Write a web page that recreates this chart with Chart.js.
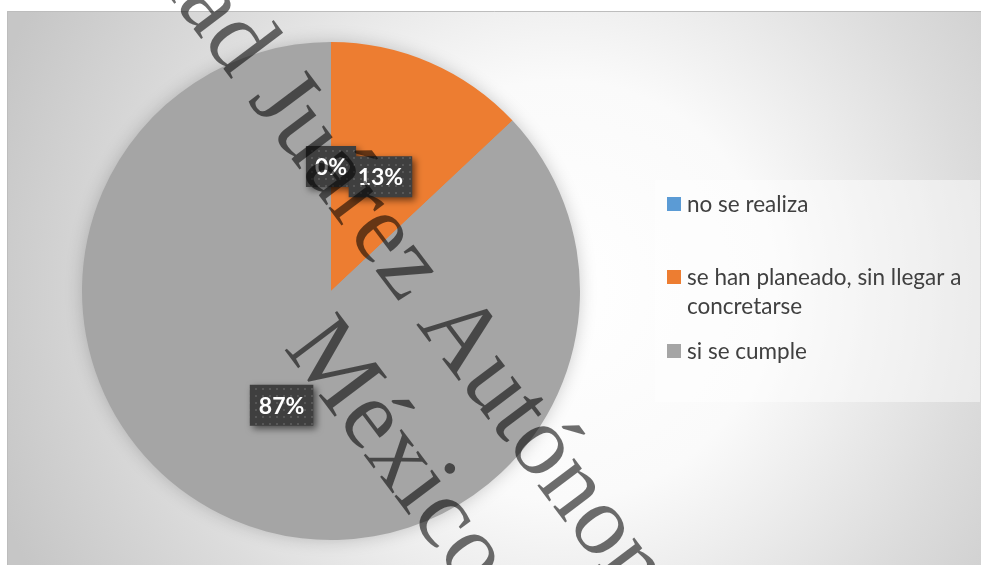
<!DOCTYPE html>
<html>
<head>
<meta charset="utf-8">
<script src="https://cdn.jsdelivr.net/npm/chart.js@4.4.1/dist/chart.umd.min.js"></script>
<style>
  html, body { margin: 0; padding: 0; background: #fff; }
  canvas { display: block; }
</style>
</head>
<body>
<canvas id="pie" width="981" height="565"></canvas>
<script>
const categories = ['no se realiza', 'se han planeado, sin llegar a concretarse', 'si se cumple']
const values = [0, 13, 87]
const colors = ['#5B9BD5', '#ED7D31', '#A5A5A5']
const watermarkLines = ['Universidad ', 'Juárez Autónoma de Tabasco', 'México']

const total = values.reduce((a, b) => a + b, 0)

// little dotted fill used by the dark label boxes
const dots = document.createElement('canvas')
dots.width = 7
dots.height = 7
const dctx = dots.getContext('2d')
dctx.fillStyle = '#3f3f3f'
dctx.fillRect(0, 0, 7, 7)
dctx.fillStyle = '#575757'
dctx.fillRect(3, 3, 2, 2)

const background = {
    id: 'background',
    beforeDraw(chart) {
        const ctx = chart.ctx
        ctx.save()
        ctx.fillStyle = '#fff'
        ctx.fillRect(0, 0, chart.width, chart.height)
        const g = ctx.createRadialGradient(560, 290, 0, 560, 290, 600)
        g.addColorStop(0, '#ffffff')
        g.addColorStop(0.35, '#fafafa')
        g.addColorStop(0.7, '#dcdcdc')
        g.addColorStop(1, '#c6c6c6')
        ctx.fillStyle = g
        ctx.fillRect(7, 11, chart.width - 7, chart.height - 11)
        ctx.strokeStyle = '#bdbdbd'
        ctx.lineWidth = 1
        ctx.beginPath()
        ctx.moveTo(7.5, chart.height)
        ctx.lineTo(7.5, 11.5)
        ctx.lineTo(chart.width, 11.5)
        ctx.stroke()
        ctx.restore()
    }
}

const pieShadow = {
    id: 'pieShadow',
    beforeDatasetsDraw(chart) {
        const arc = chart.getDatasetMeta(0).data[0]
        if (!arc) return
        const ctx = chart.ctx
        ctx.save()
        ctx.shadowColor = 'rgba(0,0,0,0.22)'
        ctx.shadowBlur = 18
        ctx.fillStyle = colors[2]
        ctx.beginPath()
        ctx.arc(arc.x, arc.y, arc.outerRadius - 1, 0, Math.PI * 2)
        ctx.fill()
        ctx.restore()
    }
}

const percentLabels = {
    id: 'percentLabels',
    afterDatasetsDraw(chart) {
        const ctx = chart.ctx
        const meta = chart.getDatasetMeta(0)
        ctx.save()
        ctx.font = 'bold 23px Lato'
        ctx.textAlign = 'center'
        ctx.textBaseline = 'middle'
        meta.data.forEach((arc, i) => {
            const p = arc.getCenterPoint()
            const txt = Math.round(values[i] / total * 100) + '%'
            const w = ctx.measureText(txt).width + 18
            const h = 41
            ctx.save()
            ctx.shadowColor = 'rgba(0,0,0,0.55)'
            ctx.shadowBlur = 7
            ctx.shadowOffsetX = 3
            ctx.shadowOffsetY = 3
            ctx.fillStyle = ctx.createPattern(dots, 'repeat')
            ctx.fillRect(p.x - w / 2, p.y - h / 2, w, h)
            ctx.restore()
            ctx.fillStyle = '#ffffff'
            ctx.fillText(txt, p.x, p.y + 1)
        })
        ctx.restore()
    }
}

function wrap(ctx, text, maxWidth) {
    const words = text.split(' ')
    const lines = []
    let line = ''
    words.forEach(wd => {
        const test = line ? line + ' ' + wd : wd
        if (ctx.measureText(test).width > maxWidth && line) {
            lines.push(line)
            line = wd
        } else {
            line = test
        }
    })
    lines.push(line)
    return lines
}

const sideLegend = {
    id: 'sideLegend',
    afterDraw(chart) {
        const ctx = chart.ctx
        ctx.save()
        ctx.fillStyle = 'rgba(255,255,255,0.45)'
        ctx.fillRect(655, 180, 325, 222)
        ctx.font = '22.5px Lato'
        ctx.textBaseline = 'middle'
        const rowY = [204, 277, 351]
        categories.forEach((c, i) => {
            ctx.fillStyle = colors[i]
            ctx.fillRect(667, rowY[i] - 7, 14, 14)
            ctx.fillStyle = '#404040'
            wrap(ctx, c, 286).forEach((ln, k) => {
                ctx.fillText(ln, 687, rowY[i] + 1 + k * 29)
            })
        })
        ctx.restore()
    }
}

const watermark = {
    id: 'watermark',
    afterDraw(chart) {
        const ctx = chart.ctx
        const ang = 53 * Math.PI / 180
        ctx.save()
        ctx.fillStyle = 'rgba(0,0,0,0.57)'
        ctx.font = '100px "Liberation Serif"'
        ctx.textBaseline = 'alphabetic'
        ctx.save()
        ctx.translate(247, 100)
        ctx.rotate(ang)
        ctx.textAlign = 'right'
        ctx.fillText(watermarkLines[0], 0, 0)
        ctx.textAlign = 'left'
        ctx.fillText(watermarkLines[1], 0, 0)
        ctx.restore()
        ctx.translate(283, 348)
        ctx.rotate(ang)
        ctx.textAlign = 'left'
        ctx.fillText(watermarkLines[2], 0, 0)
        ctx.restore()
    }
}

new Chart(document.getElementById('pie').getContext('2d'), {
    type: 'pie',
    data: {
        labels: categories,
        datasets: [{
            data: values,
            backgroundColor: colors,
            borderWidth: 0
        }]
    },
    options: {
        responsive: false,
        animation: false,
        devicePixelRatio: 1,
        layout: {
            padding: { left: 82, top: 41, right: 401, bottom: 24 }
        },
        plugins: {
            legend: { display: false },
            tooltip: { enabled: false }
        }
    },
    plugins: [background, pieShadow, percentLabels, sideLegend, watermark]
})
</script>
</body>
</html>
